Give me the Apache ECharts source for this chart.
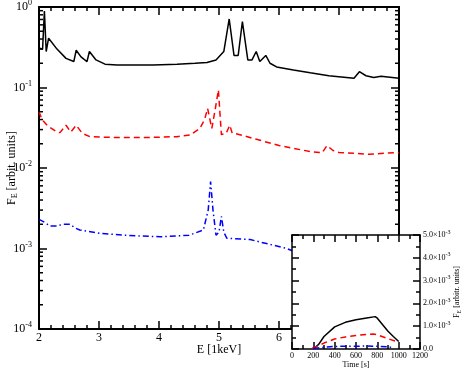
<!DOCTYPE html>
<html>
<head>
    <meta charset="UTF-8">
    <title>F_E spectra</title>
    <script src="https://cdn.jsdelivr.net/npm/echarts@6/dist/echarts.min.js"></script>
    <style>
        html, body { margin: 0; padding: 0; background: #fff; }
    </style>
</head>
<body>
<div id="main" style="width: 463px;height:371px;"></div>

<script type="text/javascript">
    // main panel: spectra vs energy
    var blackE = [2.00, 2.06, 2.09, 2.12, 2.16, 2.3, 2.45, 2.58, 2.62, 2.7, 2.8, 2.84, 2.95, 3.1, 3.3, 3.6, 3.9, 4.3, 4.6, 4.8, 4.95, 5.08, 5.17, 5.25, 5.32, 5.39, 5.48, 5.55, 5.62, 5.68, 5.78, 5.85, 5.96, 6.24, 6.52, 6.83, 7.25, 7.34, 7.45, 7.58, 7.7, 8.0];
    var blackF = [0.31, 0.30, 0.89, 0.28, 0.41, 0.30, 0.23, 0.21, 0.29, 0.24, 0.21, 0.28, 0.22, 0.195, 0.19, 0.19, 0.19, 0.195, 0.20, 0.205, 0.22, 0.28, 0.71, 0.25, 0.25, 0.66, 0.22, 0.22, 0.28, 0.21, 0.25, 0.20, 0.18, 0.165, 0.152, 0.14, 0.13, 0.157, 0.14, 0.133, 0.138, 0.13];

    var redE = [2.0, 2.05, 2.15, 2.3, 2.35, 2.45, 2.53, 2.62, 2.72, 2.85, 3.2, 3.85, 4.3, 4.52, 4.68, 4.76, 4.81, 4.88, 4.93, 4.99, 5.04, 5.12, 5.18, 5.22, 5.3, 5.6, 6.0, 6.52, 6.72, 6.8, 6.9, 7.0, 7.5, 7.93, 8.0];
    var redF = [0.05, 0.04, 0.033, 0.028, 0.0275, 0.034, 0.028, 0.034, 0.027, 0.0245, 0.024, 0.024, 0.0245, 0.0257, 0.031, 0.04, 0.055, 0.031, 0.05, 0.093, 0.026, 0.027, 0.034, 0.027, 0.0265, 0.023, 0.019, 0.016, 0.0155, 0.019, 0.0165, 0.0156, 0.0148, 0.0155, 0.0155];

    var blueE = [2.0, 2.1, 2.18, 2.3, 2.4, 2.52, 2.6, 2.68, 3.0, 3.5, 4.02, 4.5, 4.74, 4.82, 4.86, 4.9, 4.95, 5.0, 5.04, 5.08, 5.13, 5.52, 6.13, 6.2, 6.6, 7.0, 8.0];
    var blueF = [0.0023, 0.0021, 0.0019, 0.0019, 0.002, 0.002, 0.0018, 0.0017, 0.00155, 0.00145, 0.0014, 0.00146, 0.0017, 0.003, 0.0068, 0.003, 0.00146, 0.0016, 0.0025, 0.0016, 0.00134, 0.00129, 0.001, 0.00095, 0.0009, 0.00085, 0.0008];

    // inset: light curves vs time
    var blackT = [200, 250, 300, 400, 500, 600, 700, 780, 800, 850, 900, 950, 1000];
    var blackL = [0, 0.2e-3, 0.55e-3, 0.97e-3, 1.17e-3, 1.28e-3, 1.36e-3, 1.42e-3, 1.35e-3, 1.06e-3, 0.78e-3, 0.55e-3, 0.33e-3];
    var redT = [190, 250, 300, 400, 500, 600, 700, 760, 800, 900, 1000];
    var redL = [0.04e-3, 0.15e-3, 0.26e-3, 0.44e-3, 0.53e-3, 0.59e-3, 0.64e-3, 0.66e-3, 0.62e-3, 0.45e-3, 0.3e-3];
    var blueT = [200, 300, 400, 500, 600, 700, 800, 900, 950];
    var blueL = [0.02e-3, 0.08e-3, 0.11e-3, 0.12e-3, 0.12e-3, 0.13e-3, 0.12e-3, 0.1e-3, 0.05e-3];

    var eRange = [2, 8];
    var tRange = [0, 1200];

    // log minor ticks 2..9 per decade
    var minorVals = [];
    for (var n = -4; n < 0; n++) {
        for (var k = 2; k <= 9; k++) {
            minorVals.push([eRange[0], k * Math.pow(10, n)]);
        }
    }

    function pairs(xs, ys) {
        return xs.map(function (x, i) { return [x, ys[i]]; });
    }

    var font = 'Liberation Serif';
    var blk = '#000';

    // shared axis pieces
    function line(w) { return {onZero: false, lineStyle: {color: blk, width: w}}; }
    function tick(len) { return {inside: true, length: len, lineStyle: {color: blk, width: 1.5}}; }
    function minor(parts, len) { return {show: true, splitNumber: parts, length: len, lineStyle: {color: blk, width: 1.5}}; }

    var myChart = echarts.init(document.getElementById('main'));

    var option = {
        backgroundColor: '#fff',
        animation: false,
        textStyle: {fontFamily: font},
        grid: [
            {left: 39, top: 7, width: 360, height: 322, outerBoundsMode: 'none', containLabel: false},
            {left: 292, top: 235, width: 128, height: 114, outerBoundsMode: 'none', containLabel: false,
                show: true, backgroundColor: '#fff', borderWidth: 0, z: 10}
        ],
        xAxis: [
            {
                gridIndex: 0, type: 'value', min: eRange[0], max: eRange[1], interval: 1,
                position: 'bottom',
                axisLine: line(2), axisTick: tick(8), minorTick: minor(5, 4),
                splitLine: {show: false},
                axisLabel: {color: blk, fontFamily: font, fontSize: 12, margin: 3},
                name: 'E [1keV]', nameLocation: 'middle', nameGap: 15, nameMoveOverlap: false,
                nameTextStyle: {color: blk, fontFamily: font, fontSize: 12}
            },
            {
                gridIndex: 0, type: 'value', min: eRange[0], max: eRange[1], interval: 1,
                position: 'top',
                axisLine: line(2), axisTick: tick(8), minorTick: minor(5, 4),
                splitLine: {show: false},
                axisLabel: {show: false}
            },
            {
                gridIndex: 1, type: 'value', min: tRange[0], max: tRange[1], interval: 200,
                position: 'bottom', z: 11,
                axisLine: line(1.5), axisTick: tick(7), minorTick: minor(2, 4),
                splitLine: {show: false},
                axisLabel: {color: blk, fontFamily: font, fontSize: 8, margin: 3,
                    formatter: function (v) { return String(v); }},
                name: 'Time [s]', nameLocation: 'middle', nameGap: 12, nameMoveOverlap: false,
                nameTextStyle: {color: blk, fontFamily: font, fontSize: 8}
            },
            {
                gridIndex: 1, type: 'value', min: tRange[0], max: tRange[1], interval: 200,
                position: 'top', z: 11,
                axisLine: line(1.5), axisTick: tick(7), minorTick: minor(2, 4),
                splitLine: {show: false},
                axisLabel: {show: false}
            }
        ],
        yAxis: [
            {
                gridIndex: 0, type: 'log', logBase: 10, min: 1e-4, max: 1,
                position: 'left',
                axisLine: line(2), axisTick: tick(8),
                splitLine: {show: false},
                axisLabel: {
                    color: blk, fontFamily: font, fontSize: 12, margin: 7,
                    formatter: function (v) {
                        return '10{sup|' + Math.round(Math.log10(v)) + '}';
                    },
                    rich: {sup: {fontSize: 8, fontFamily: font, color: blk, padding: [0, 0, 8, 0]}}
                },
                name: 'F{sub|E} [arbit. units]', nameLocation: 'middle', nameGap: 20, nameRotate: 90,
                nameMoveOverlap: false,
                nameTextStyle: {
                    color: blk, fontFamily: font, fontSize: 12,
                    rich: {sub: {fontSize: 8, fontFamily: font, color: blk, padding: [7, 0, 0, 0]}}
                }
            },
            {
                gridIndex: 0, type: 'log', logBase: 10, min: 1e-4, max: 1,
                position: 'right',
                axisLine: line(2), axisTick: tick(8),
                splitLine: {show: false},
                axisLabel: {show: false}
            },
            {
                gridIndex: 1, type: 'value', min: 0, max: 5e-3, interval: 1e-3,
                position: 'right', z: 11,
                axisLine: line(1.5), axisTick: tick(7), minorTick: minor(2, 4),
                splitLine: {show: false},
                axisLabel: {
                    color: blk, fontFamily: font, fontSize: 8, margin: 3,
                    formatter: function (v) {
                        if (v === 0) return '0.0';
                        return (v * 1000).toFixed(1) + '\u00d710{sup|-3}';
                    },
                    rich: {sup: {fontSize: 6, fontFamily: font, color: blk, padding: [0, 0, 6, 0]}}
                },
                name: 'F{sub|E} [arbitr. units]', nameLocation: 'middle', nameGap: 31, nameRotate: 90,
                nameMoveOverlap: false,
                nameTextStyle: {
                    color: blk, fontFamily: font, fontSize: 8,
                    rich: {sub: {fontSize: 6, fontFamily: font, color: blk, padding: [5, 0, 0, 0]}}
                }
            },
            {
                gridIndex: 1, type: 'value', min: 0, max: 5e-3, interval: 1e-3,
                position: 'left', z: 11,
                axisLine: line(1.5), axisTick: tick(7), minorTick: minor(2, 4),
                splitLine: {show: false},
                axisLabel: {show: false}
            }
        ],
        series: [
            {
                name: 'log minor ticks', type: 'custom', xAxisIndex: 0, yAxisIndex: 0, z: 3, silent: true,
                data: minorVals,
                renderItem: function (params, api) {
                    var v = api.value(1);
                    var a = api.coord([eRange[0], v]);
                    var b = api.coord([eRange[1], v]);
                    return {
                        type: 'group',
                        children: [
                            {type: 'line', shape: {x1: a[0], y1: a[1], x2: a[0] + 4, y2: a[1]}, style: {stroke: blk, lineWidth: 1.5}},
                            {type: 'line', shape: {x1: b[0], y1: b[1], x2: b[0] - 4, y2: b[1]}, style: {stroke: blk, lineWidth: 1.5}}
                        ]
                    };
                }
            },
            {
                type: 'line', xAxisIndex: 0, yAxisIndex: 0, showSymbol: false, z: 2,
                data: pairs(blackE, blackF),
                lineStyle: {color: '#000', width: 1.5}
            },
            {
                type: 'line', xAxisIndex: 0, yAxisIndex: 0, showSymbol: false, z: 2,
                data: pairs(redE, redF),
                lineStyle: {color: '#ff0000', width: 1.5, type: [6, 4]}
            },
            {
                type: 'line', xAxisIndex: 0, yAxisIndex: 0, showSymbol: false, z: 2,
                data: pairs(blueE, blueF),
                lineStyle: {color: '#0000ff', width: 1.5, type: [6, 3, 1.5, 3]}
            },
            {
                type: 'line', xAxisIndex: 2, yAxisIndex: 2, showSymbol: false, z: 12,
                data: pairs(blackT, blackL),
                lineStyle: {color: '#000', width: 1.5}
            },
            {
                type: 'line', xAxisIndex: 2, yAxisIndex: 2, showSymbol: false, z: 12,
                data: pairs(redT, redL),
                lineStyle: {color: '#ff0000', width: 1.5, type: [6, 4]}
            },
            {
                type: 'line', xAxisIndex: 2, yAxisIndex: 2, showSymbol: false, z: 12,
                data: pairs(blueT, blueL),
                lineStyle: {color: '#0000ff', width: 1.5, type: [6, 3, 1.5, 3]}
            }
        ]
    };

    myChart.setOption(option);
</script>
</body>
</html>
